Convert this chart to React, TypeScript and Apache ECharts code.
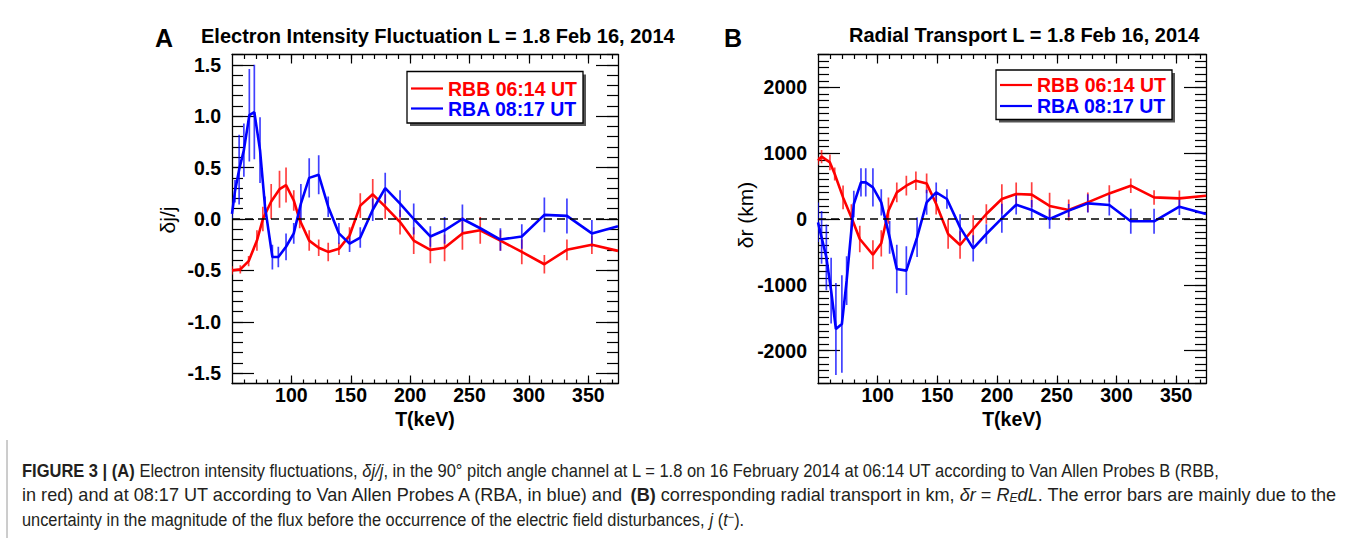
import React, { useEffect, useRef } from "react";
import * as echarts from "echarts";

const FONT = "'Liberation Sans', Arial, Helvetica, sans-serif";

// ---------- Panel A: electron intensity fluctuation (dj/j) ----------
const aRedE = [50, 57, 64, 71, 76, 83, 90, 95.5, 102, 107, 115, 123, 131, 140, 149, 158, 168.5, 179, 191.5, 203, 217, 229, 244, 259, 276, 294, 313, 332, 353, 375];
const aRedV = [-0.5, -0.49, -0.41, -0.21, 0.0, 0.17, 0.29, 0.33, 0.18, -0.01, -0.21, -0.28, -0.32, -0.29, -0.16, 0.13, 0.24, 0.12, -0.03, -0.21, -0.3, -0.28, -0.14, -0.11, -0.21, -0.32, -0.44, -0.3, -0.25, -0.31];
const aRedErr = [0.04, 0.04, 0.05, 0.1, 0.12, 0.17, 0.18, 0.17, 0.1, 0.08, 0.1, 0.08, 0.09, 0.06, 0.08, 0.12, 0.15, 0.12, 0.12, 0.13, 0.13, 0.13, 0.16, 0.13, 0.1, 0.12, 0.09, 0.1, 0.09, 0];

const aBlueE = [50, 52.5, 56, 60, 64.6, 68.8, 73.6, 77.8, 84, 89, 95.5, 102, 108, 115, 123, 131, 140, 149, 158, 168.5, 179, 191.5, 203, 217, 229, 244, 259, 276, 294, 313, 332, 353, 375];
const aBlueV = [0.05, 0.27, 0.48, 0.67, 1.01, 1.04, 0.67, 0.12, -0.37, -0.37, -0.27, -0.14, 0.15, 0.4, 0.43, 0.12, -0.14, -0.24, -0.18, 0.09, 0.3, 0.15, 0.0, -0.17, -0.11, 0.0, -0.09, -0.2, -0.17, 0.04, 0.03, -0.14, -0.07];
const aBlueErr = [0.05, 0.11, 0.34, 0.26, 0.45, 0.46, 0.32, 0.1, 0.12, 0.1, 0.13, 0.1, 0.19, 0.19, 0.19, 0.1, 0.1, 0.08, 0.1, 0.11, 0.15, 0.13, 0.15, 0.1, 0.13, 0.14, 0.0, 0.11, 0.12, 0.17, 0.17, 0.13, 0];

// ---------- Panel B: radial transport (km) ----------
const bRedE = [50, 53, 60, 64, 71, 78, 85, 96, 103, 109, 116, 124, 132, 141, 149, 159, 169, 180, 191, 204, 216, 229, 244, 260, 276, 294, 312, 331.5, 352.7, 375];
const bRedV = [886, 947, 860, 684, 328, 24, -304, -543, -370, 126, 404, 506, 582, 541, 228, -228, -395, -152, 76, 304, 380, 370, 198, 137, 252, 389, 506, 328, 313, 354];
const bRedErr = [60, 100, 120, 100, 180, 200, 200, 220, 200, 200, 150, 150, 140, 150, 160, 225, 210, 210, 150, 225, 175, 190, 200, 160, 150, 125, 110, 110, 120, 0];

const bBlueE = [50, 53, 57, 61, 65, 70, 74, 80, 86, 90, 96, 103, 110, 116, 124, 133, 141, 149, 158, 169, 180, 191, 204, 216, 229, 244, 260, 276, 294, 312, 331.5, 352.7, 375];
const bBlueV = [-51, -279, -583, -1090, -1672, -1596, -938, 228, 557, 557, 480, 253, -279, -760, -785, -279, 253, 404, 304, -127, -446, -228, 10, 217, 137, 0, 127, 238, 213, -35, -35, 187, 76];
const bBlueErr = [300, 400, 500, 500, 700, 740, 370, 200, 215, 215, 290, 200, 250, 370, 370, 300, 190, 150, 150, 200, 200, 150, 220, 150, 150, 150, 100, 140, 160, 190, 190, 125, 0];

// ---------- axes / ticks ----------
const xMin = 50;
const xMax = 375;
const xMajorTicks = [100, 150, 200, 250, 300, 350];
const aYMajorTicks = [-1.5, -1.0, -0.5, 0.0, 0.5, 1.0, 1.5];
const bYMajorTicks = [-2000, -1000, 0, 1000, 2000];

const xMinorTicks: number[] = [];
for (let v = 60; v <= 370; v += 10) xMinorTicks.push(v);
const aYMinorTicks: number[] = [];
for (let i = -16; i <= 16; i++) aYMinorTicks.push(i / 10);
const bYMinorTicks: number[] = [];
for (let i = -25; i <= 25; i++) bYMinorTicks.push(i * 100);

const RED = "#ff0000";
const BLUE = "#0000ff";

const pairs = (e: number[], v: number[]) => e.map((x, i) => [x, v[i]]);
const bars = (e: number[], v: number[], err: number[]) => e.map((x, i) => [x, v[i] - err[i], v[i] + err[i]]);

const grids = [
  { left: 232, top: 54.5, width: 386, height: 329 },
  { left: 818, top: 54.5, width: 388, height: 329 },
];

function makeXAxes(g: number) {
  const common = { gridIndex: g, type: "value", min: xMin, max: xMax, splitLine: { show: false } };
  const lineOn = { show: true, onZero: false, lineStyle: { color: "#000", width: 1.3 } };
  const lineOff = { show: false, onZero: false };
  return [
    {
      ...common, position: "bottom", axisLine: lineOn,
      axisTick: { show: true, inside: true, length: 8, customValues: xMajorTicks, lineStyle: { color: "#000", width: 1.2 } },
      axisLabel: { show: true, customValues: xMajorTicks, fontSize: 19.5, fontWeight: "bold", color: "#000", fontFamily: FONT, margin: 1 },
    },
    {
      ...common, position: "bottom", axisLine: lineOff,
      axisTick: { show: true, inside: true, length: 4, customValues: xMinorTicks, lineStyle: { color: "#000", width: 1.2 } },
      axisLabel: { show: false },
    },
    {
      ...common, position: "top", axisLine: lineOn,
      axisTick: { show: true, inside: true, length: 9, customValues: xMajorTicks, lineStyle: { color: "#000", width: 1.2 } },
      axisLabel: { show: false },
    },
    {
      ...common, position: "top", axisLine: lineOff,
      axisTick: { show: true, inside: true, length: 4.5, customValues: xMinorTicks, lineStyle: { color: "#000", width: 1.2 } },
      axisLabel: { show: false },
    },
  ];
}

function makeYAxes(g: number, min: number, max: number, major: number[], minor: number[], fmt: (v: number) => string) {
  const common = { gridIndex: g, type: "value", min, max, splitLine: { show: false } };
  const lineOn = { show: true, onZero: false, lineStyle: { color: "#000", width: 1.3 } };
  const lineOff = { show: false, onZero: false };
  return [
    {
      ...common, position: "left", axisLine: lineOn,
      axisTick: { show: true, inside: true, length: 22, customValues: major, lineStyle: { color: "#000", width: 1.2 } },
      axisLabel: { show: true, customValues: major, formatter: fmt, fontSize: 19.5, fontWeight: "bold", color: "#000", fontFamily: FONT, margin: 11 },
    },
    {
      ...common, position: "left", axisLine: lineOff,
      axisTick: { show: true, inside: true, length: 11, customValues: minor, lineStyle: { color: "#000", width: 1.2 } },
      axisLabel: { show: false },
    },
    {
      ...common, position: "right", axisLine: lineOn,
      axisTick: { show: true, inside: true, length: 22, customValues: major, lineStyle: { color: "#000", width: 1.2 } },
      axisLabel: { show: false },
    },
    {
      ...common, position: "right", axisLine: lineOff,
      axisTick: { show: true, inside: true, length: 11, customValues: minor, lineStyle: { color: "#000", width: 1.2 } },
      axisLabel: { show: false },
    },
  ];
}

function lineSeries(name: string, data: number[][], color: string, xi: number, yi: number, zero: boolean) {
  const s: any = {
    name, type: "line", data, xAxisIndex: xi, yAxisIndex: yi,
    showSymbol: false, symbol: "none", clip: true,
    lineStyle: { color, width: 2.6 }, itemStyle: { color }, z: 4,
  };
  if (zero) {
    s.markLine = {
      silent: true, symbol: "none", label: { show: false },
      lineStyle: { type: [8, 5], color: "#000", width: 1.5 },
      data: [{ yAxis: 0 }],
    };
  }
  return s;
}

function errorSeries(data: number[][], color: string, xi: number, yi: number) {
  return {
    type: "custom", xAxisIndex: xi, yAxisIndex: yi, data, z: 3, clip: true,
    encode: { x: 0, y: [1, 2] },
    renderItem: (_p: any, api: any) => {
      const x = api.value(0);
      const p1 = api.coord([x, api.value(1)]);
      const p2 = api.coord([x, api.value(2)]);
      return {
        type: "line",
        shape: { x1: p1[0], y1: p1[1], x2: p2[0], y2: p2[1] },
        style: { stroke: color, lineWidth: 1.7, opacity: 0.75 },
      };
    },
  };
}

// ---------- caption ----------
type Seg = { t: string; s?: "b" | "i" | "sub" | "sup" };
const capLine1: Seg[] = [
  { t: "FIGURE 3 | (A)", s: "b" },
  { t: " Electron intensity fluctuations, " },
  { t: "δj/j", s: "i" },
  { t: ", in the 90° pitch angle channel at L = 1.8 on 16 February 2014 at 06:14 UT according to Van Allen Probes B (RBB," },
];
const capLine2: Seg[] = [
  { t: "in red) and at 08:17 UT according to Van Allen Probes A (RBA, in blue) and" },
  { t: " (B)", s: "b" },
  { t: " corresponding radial transport in km, " },
  { t: "δr", s: "i" },
  { t: " = " },
  { t: "R", s: "i" },
  { t: "E", s: "sub" },
  { t: "dL", s: "i" },
  { t: ". The error bars are mainly due to the" },
];
const capLine3: Seg[] = [
  { t: "uncertainty in the magnitude of the flux before the occurrence of the electric field disturbances, " },
  { t: "j", s: "i" },
  { t: " (" },
  { t: "t", s: "i" },
  { t: "−", s: "sup" },
  { t: ")." },
];

const CAP_SIZE = 18;
const CAP_COLOR = "#231f20";
const capRich: any = {
  n: { fontFamily: FONT, fontSize: CAP_SIZE, fill: CAP_COLOR },
  b: { fontFamily: FONT, fontSize: CAP_SIZE, fontWeight: "bold", fill: CAP_COLOR },
  i: { fontFamily: FONT, fontSize: CAP_SIZE, fontStyle: "italic", fill: CAP_COLOR },
  sub: { fontFamily: FONT, fontSize: 12, fontStyle: "italic", fill: CAP_COLOR, verticalAlign: "bottom" },
  sup: { fontFamily: FONT, fontSize: 12, fill: CAP_COLOR, verticalAlign: "top" },
};

function segFont(s?: string) {
  if (s === "b") return `bold ${CAP_SIZE}px ${FONT}`;
  if (s === "i") return `italic ${CAP_SIZE}px ${FONT}`;
  if (s === "sub") return `italic 12px ${FONT}`;
  if (s === "sup") return `12px ${FONT}`;
  return `${CAP_SIZE}px ${FONT}`;
}

function measure(segs: Seg[]) {
  const c = document.createElement("canvas").getContext("2d");
  if (!c) return 1;
  let w = 0;
  for (const g of segs) {
    c.font = segFont(g.s);
    w += c.measureText(g.t).width;
  }
  return w;
}

function richText(segs: Seg[]) {
  return segs.map((g) => `{${g.s || "n"}|${g.t}}`).join("");
}

function buildOption() {
  const capText = (segs: Seg[], y: number, targetWidth: number) => ({
    type: "text", x: 22, y, scaleX: targetWidth / measure(segs), scaleY: 1,
    style: { text: richText(segs), rich: capRich, fontFamily: FONT, fontSize: CAP_SIZE, fill: CAP_COLOR, verticalAlign: "middle", align: "left" },
  });

  const legend = (x0: number, y0: number, w: number, h: number, yR: number, yB: number) => ({
    type: "group",
    children: [
      { type: "rect", shape: { x: x0 + 3, y: y0 + 3, width: w, height: h }, style: { fill: "#555" } },
      { type: "rect", shape: { x: x0, y: y0, width: w, height: h }, style: { fill: "#fff", stroke: "#000", lineWidth: 1.3 } },
      { type: "line", shape: { x1: x0 + 4, y1: yR, x2: x0 + 36, y2: yR }, style: { stroke: RED, lineWidth: 2.2 } },
      { type: "line", shape: { x1: x0 + 4, y1: yB, x2: x0 + 36, y2: yB }, style: { stroke: BLUE, lineWidth: 2.2 } },
      { type: "text", x: x0 + 41, y: yR, style: { text: "RBB 06:14 UT", fill: RED, fontSize: 19.5, fontWeight: "bold", fontFamily: FONT, verticalAlign: "middle" } },
      { type: "text", x: x0 + 41, y: yB, style: { text: "RBA 08:17 UT", fill: BLUE, fontSize: 19.5, fontWeight: "bold", fontFamily: FONT, verticalAlign: "middle" } },
    ],
  });

  const boldText = (text: string, x: number, y: number, size: number, align = "left") => ({
    type: "text", x, y,
    style: { text, fill: "#000", fontSize: size, fontWeight: "bold", fontFamily: FONT, align, verticalAlign: "middle" },
  });
  const rotText = (text: string, x: number, y: number, size: number) => ({
    type: "text", x, y, rotation: Math.PI / 2,
    style: { text, fill: "#000", fontSize: size, fontFamily: FONT, align: "center", verticalAlign: "middle" },
  });

  return {
    animation: false,
    backgroundColor: "#fff",
    grid: grids,
    xAxis: [...makeXAxes(0), ...makeXAxes(1)],
    yAxis: [
      ...makeYAxes(0, -1.6, 1.6, aYMajorTicks, aYMinorTicks, (v: number) => v.toFixed(1)),
      ...makeYAxes(1, -2500, 2500, bYMajorTicks, bYMinorTicks, (v: number) => String(Math.round(v))),
    ],
    series: [
      errorSeries(bars(aRedE, aRedV, aRedErr), RED, 0, 0),
      errorSeries(bars(aBlueE, aBlueV, aBlueErr), BLUE, 0, 0),
      lineSeries("RBB 06:14 UT", pairs(aRedE, aRedV), RED, 0, 0, true),
      lineSeries("RBA 08:17 UT", pairs(aBlueE, aBlueV), BLUE, 0, 0, false),
      errorSeries(bars(bRedE, bRedV, bRedErr), RED, 4, 4),
      errorSeries(bars(bBlueE, bBlueV, bBlueErr), BLUE, 4, 4),
      lineSeries("RBB 06:14 UT", pairs(bRedE, bRedV), RED, 4, 4, true),
      lineSeries("RBA 08:17 UT", pairs(bBlueE, bBlueV), BLUE, 4, 4, false),
    ],
    graphic: [
      boldText("A", 155, 37.5, 25),
      boldText("Electron Intensity Fluctuation L = 1.8 Feb 16, 2014", 201, 35.5, 20),
      boldText("B", 724, 37.5, 25),
      boldText("Radial Transport L = 1.8 Feb 16, 2014", 849, 35, 20),
      rotText("δj/j", 167, 220, 21),
      rotText("δr (km)", 745, 215, 21),
      boldText("T(keV)", 425, 419, 19.5, "center"),
      boldText("T(keV)", 1012, 419, 19.5, "center"),
      legend(407, 71.5, 176, 51.5, 88.5, 108.5),
      legend(996, 70, 176, 49.5, 85, 106),
      { type: "line", shape: { x1: 7, y1: 440, x2: 7, y2: 538 }, style: { stroke: "#9a9a9a", lineWidth: 1 } },
      capText(capLine1, 470.5, 1199),
      capText(capLine2, 495.5, 1314),
      capText(capLine3, 520, 722),
    ],
  };
}

export default function App() {
  const ref = useRef<HTMLDivElement>(null);
  useEffect(() => {
    if (!ref.current) return;
    const chart = echarts.init(ref.current, null, { renderer: "svg" });
    chart.setOption(buildOption() as any);
    return () => chart.dispose();
  }, []);
  return (
    <div
      ref={ref}
      style={{ position: "fixed", left: 0, top: 0, width: 1357, height: 538, background: "#fff" }}
    />
  );
}
